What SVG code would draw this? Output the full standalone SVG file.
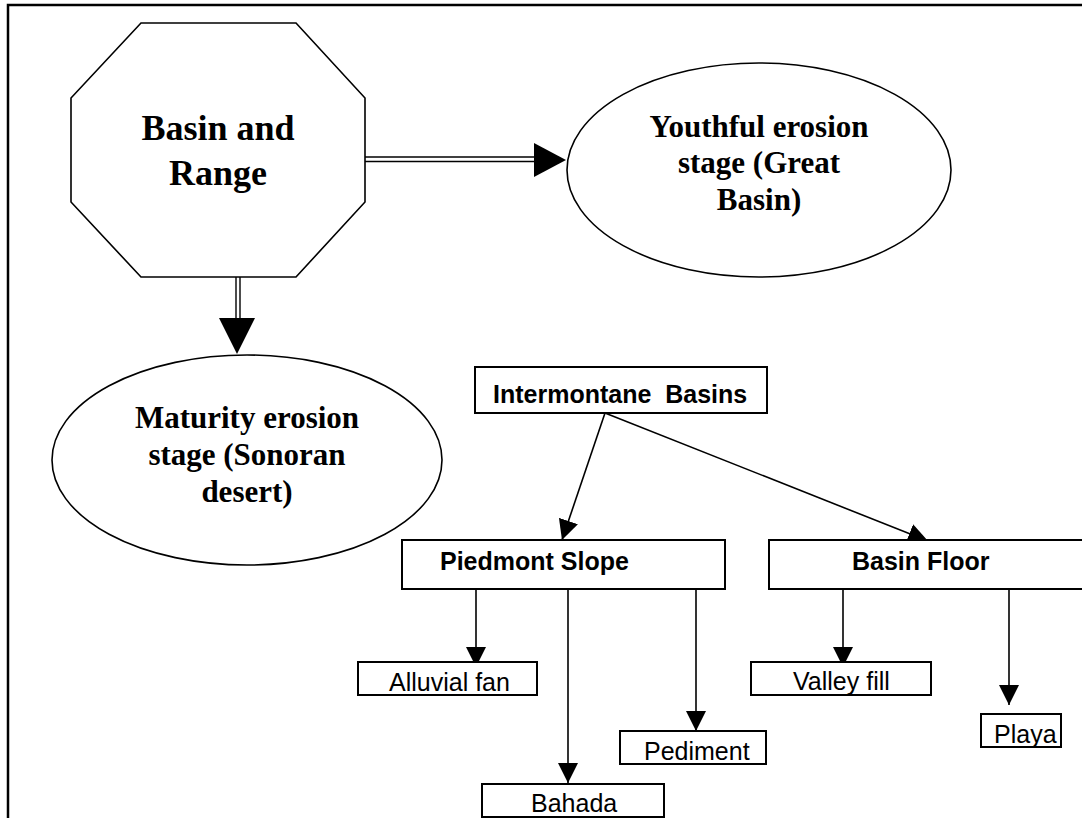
<svg xmlns="http://www.w3.org/2000/svg" width="1082" height="818" viewBox="0 0 1082 818">
<style>
.frame{fill:none;stroke:#000;stroke-width:2.5}
.shape{fill:#fff;stroke:#000;stroke-width:1.6}
.box{fill:#fff;stroke:#000;stroke-width:2}
.serif{font-family:"Liberation Serif","Times New Roman",serif;font-weight:bold;fill:#000}
.sansb{font-family:"Liberation Sans",Arial,sans-serif;font-weight:bold;font-size:25px;fill:#000}
.sans{font-family:"Liberation Sans",Arial,sans-serif;font-size:25px;fill:#000}
.conn{fill:none;stroke:#000;stroke-width:1.6}
.dbl{fill:none;stroke:#000;stroke-width:1.4}
.head{fill:#000;stroke:none}
</style>
<defs>
<marker id="arr" markerUnits="userSpaceOnUse" viewBox="0 0 20 20" markerWidth="20" markerHeight="20" refX="20" refY="10" orient="auto">
<path d="M0,0 L20,10 L0,20 z" fill="#000"/>
</marker>
</defs>
<rect width="1082" height="818" fill="#fff"/>
<path class="frame" d="M8,818 V5 H1082"/>

<g id="connectors">
<line class="dbl" x1="365" y1="157" x2="536" y2="157"/>
<line class="dbl" x1="365" y1="161.5" x2="536" y2="161.5"/>
<polygon class="head" points="534,143 566,160 534,177"/>
<line class="dbl" x1="236" y1="277" x2="236" y2="320"/>
<line class="dbl" x1="240" y1="277" x2="240" y2="320"/>
<polygon class="head" points="219,318 255,318 237,354"/>
<line class="conn" x1="605" y1="413" x2="562" y2="540" marker-end="url(#arr)"/>
<line class="conn" x1="605" y1="413" x2="928" y2="541" marker-end="url(#arr)"/>
<line class="conn" x1="476" y1="589" x2="476" y2="667" marker-end="url(#arr)"/>
<line class="conn" x1="568" y1="589" x2="568" y2="783" marker-end="url(#arr)"/>
<line class="conn" x1="696" y1="589" x2="696" y2="731" marker-end="url(#arr)"/>
<line class="conn" x1="843" y1="589" x2="843" y2="667" marker-end="url(#arr)"/>
<line class="conn" x1="1009" y1="589" x2="1009" y2="705" marker-end="url(#arr)"/>
</g>

<g id="basin-and-range">
<polygon class="shape" points="141,23 296,23 365,98 365,202 296,277 141,277 71,202 71,98"/>
<text class="serif" font-size="36" x="218" y="140" text-anchor="middle">Basin and</text>
<text class="serif" font-size="36" x="218" y="185" text-anchor="middle">Range</text>
</g>

<g id="youthful">
<ellipse class="shape" cx="759" cy="170" rx="192" ry="107"/>
<text class="serif" font-size="31" x="759" y="137" text-anchor="middle">Youthful erosion</text>
<text class="serif" font-size="31" x="759" y="173" text-anchor="middle">stage (Great</text>
<text class="serif" font-size="31" x="759" y="210" text-anchor="middle">Basin)</text>
</g>

<g id="maturity">
<ellipse class="shape" cx="247" cy="460" rx="195" ry="105"/>
<text class="serif" font-size="31" x="247" y="428" text-anchor="middle">Maturity erosion</text>
<text class="serif" font-size="31" x="247" y="465" text-anchor="middle">stage (Sonoran</text>
<text class="serif" font-size="31" x="247" y="502" text-anchor="middle">desert)</text>
</g>

<g id="intermontane">
<rect class="box" x="475" y="367" width="292" height="46"/>
<text class="sansb" x="493" y="403">Intermontane&#160; Basins</text>
</g>

<g id="piedmont">
<rect class="box" x="402" y="540" width="323" height="49"/>
<text class="sansb" x="440" y="570">Piedmont Slope</text>
</g>

<g id="basin-floor">
<rect class="box" x="769" y="540" width="330" height="49"/>
<text class="sansb" x="852" y="570">Basin Floor</text>
</g>

<g id="alluvial-fan">
<rect class="box" x="358" y="662" width="179" height="33"/>
<text class="sans" x="389" y="691">Alluvial fan</text>
</g>

<g id="bahada">
<rect class="box" x="482" y="784" width="182" height="33"/>
<text class="sans" x="531" y="812">Bahada</text>
</g>

<g id="pediment">
<rect class="box" x="620" y="731" width="146" height="33"/>
<text class="sans" x="644" y="760">Pediment</text>
</g>

<g id="valley-fill">
<rect class="box" x="751" y="662" width="180" height="33"/>
<text class="sans" x="793" y="690">Valley fill</text>
</g>

<g id="playa">
<rect class="box" x="981" y="714" width="80" height="33"/>
<text class="sans" x="994" y="743">Playa</text>
</g>
</svg>
